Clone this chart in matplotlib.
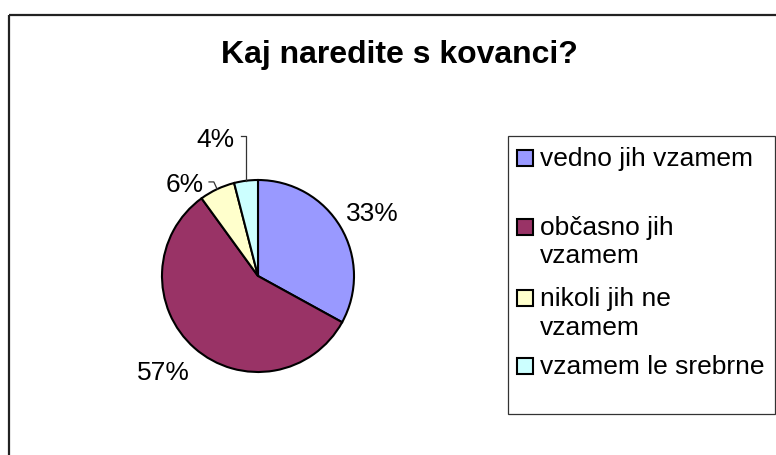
import numpy as np
import matplotlib.pyplot as plt
from matplotlib.patches import Rectangle

plt.rcParams['font.family'] = ['Liberation Sans', 'DejaVu Sans']

title = 'Kaj naredite s kovanci?'
categories = ['vedno jih vzamem', 'občasno jih\nvzamem', 'nikoli jih ne\nvzamem', 'vzamem le srebrne']
values = [33, 57, 6, 4]
colors = ['#9999FF', '#993366', '#FFFFCC', '#CCFFFF']

W, H = 776, 455
fig = plt.figure(figsize=(W / 100, H / 100), dpi=100)

# overlay in pixel coords (y down) for frame, title and legend
bg = fig.add_axes([0, 0, 1, 1])
bg.set_xlim(0, W)
bg.set_ylim(H, 0)
bg.axis('off')

bg.plot([9, 9], [15, H + 5], color='#222222', lw=1.6, solid_capstyle='butt')
bg.plot([9, W + 5], [15, 15], color='#222222', lw=1.6, solid_capstyle='butt')
bg.text(399.5, 63, title, ha='center', va='baseline', fontsize=23, fontweight='bold')

# legend box
bg.add_patch(Rectangle((508, 136), 267, 278, facecolor='white', edgecolor='#333333', lw=0.9))
leg_baselines = [[166], [235, 263], [306, 335], [374]]
for lab, col, bases in zip(categories, colors, leg_baselines):
    bg.add_patch(Rectangle((517, bases[0] - 16), 16, 16, facecolor=col, edgecolor='black', lw=1.5))
    for line, b in zip(lab.split('\n'), bases):
        bg.text(540, b, line, ha='left', va='baseline', fontsize=19)

# pie: centre (258, 276) px, radius 96 px
cx, cy, r = 258, 276, 96
ax = fig.add_axes([(cx - r) / W, (H - cy - r) / H, 2 * r / W, 2 * r / H])
wedges, _ = ax.pie(values, colors=colors, startangle=90, counterclock=False,
                   wedgeprops=dict(edgecolor='black', linewidth=1.5))
ax.set_xlim(-1, 1)
ax.set_ylim(-1, 1)
ax.axis('off')

# label positions (radius units, text baseline)
label_pos = [(1.19, 0.573), (-0.99, -1.083), (-0.76, 0.875), (-0.44, 1.344)]
for w, v, (lx, ly) in zip(wedges, values, label_pos):
    ax.text(lx, ly, f'{v}%', ha='center', va='baseline', fontsize=19, clip_on=False)

# leader lines for the small slices
def edge_point(w):
    a = np.deg2rad((w.theta1 + w.theta2) / 2)
    return np.cos(a), np.sin(a)

ex, ey = edge_point(wedges[3])
ax.plot([-0.18, ex, ex], [1.458, 1.458, ey], color='#333333', lw=0.9, clip_on=False)
ex, ey = edge_point(wedges[2])
ax.plot([-0.51, -0.46, ex], [0.98, 0.98, ey], color='#333333', lw=0.9, clip_on=False)

fig.savefig('out.png', dpi=100)
